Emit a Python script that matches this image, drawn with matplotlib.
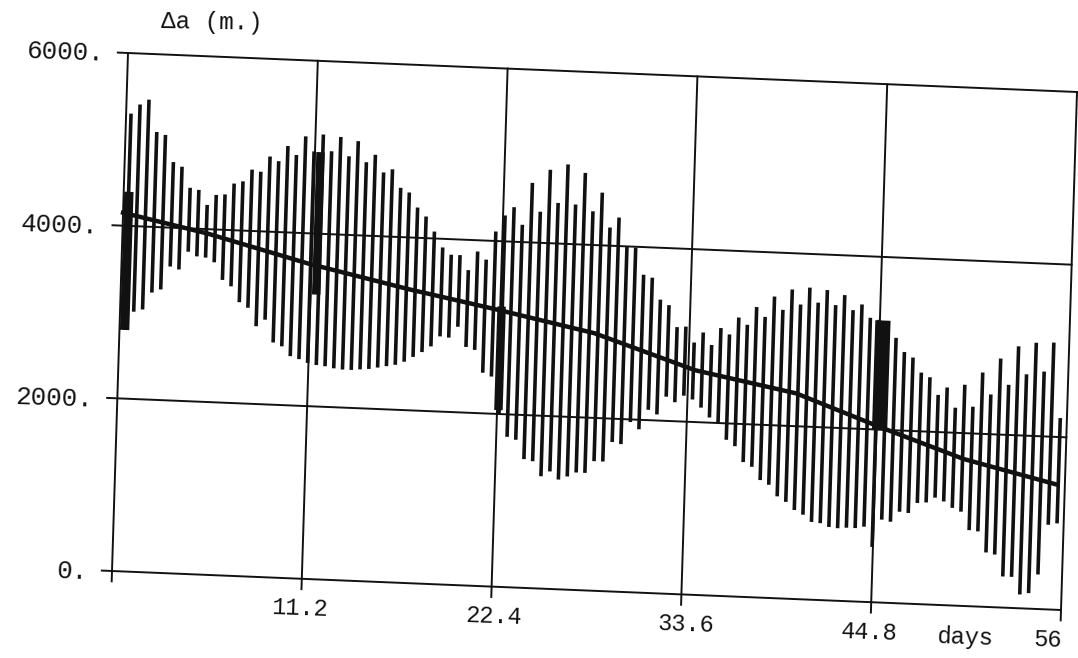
import matplotlib.pyplot as plt
from matplotlib.transforms import Affine2D
import numpy as np

# one bar per sample, samples about 0.517 day apart
first_day = 0.29
step = 0.517

tops = [5300, 5410, 5470, 5100, 5070, 4760, 4710, 4470, 4450, 4280,
        4400, 4410, 4540, 4570, 4710, 4690, 4870, 4820, 5000, 4900,
        5120, 4950, 5150, 4960, 5130, 4910, 5090, 4850, 4940, 4740,
        4780, 4570, 4520, 4350, 4250, 4080, 3900, 3820, 3820, 3650,
        3870, 3780, 4110, 4300, 4400, 4200, 4690, 4360, 4850, 4470,
        4920, 4460, 4830, 4390, 4610, 4210, 4330, 4000, 3990, 3680,
        3650, 3400, 3340, 3090, 3100, 2920, 3040, 2900, 3100, 3030,
        3230, 3150, 3360, 3250, 3490, 3340, 3580, 3410, 3610, 3440,
        3590, 3420, 3540, 3370, 3440, 3290, 3270, 3120, 3070, 2910,
        2850, 2680, 2630, 2430, 2520, 2290, 2560, 2310, 2710, 2460,
        2880, 2580, 3030, 2710, 3080, 2750, 3090, 2220]

bottoms = [2800, 3010, 3040, 3240, 3280, 3550, 3520, 3730, 3680, 3670,
           3620, 3420, 3350, 3170, 3110, 2900, 2980, 2720, 2680, 2570,
           2540, 2500, 2480, 2470, 2450, 2440, 2440, 2450, 2460, 2480,
           2500, 2520, 2560, 2620, 2680, 2750, 2870, 2860, 2990, 2760,
           2730, 2470, 2430, 2000, 1740, 1710, 1490, 1470, 1300, 1360,
           1270, 1310, 1360, 1360, 1500, 1500, 1730, 1710, 1970, 1890,
           2120, 2070, 2280, 2220, 2300, 2260, 2170, 2060, 2000, 1810,
           1740, 1560, 1510, 1360, 1310, 1180, 1120, 1030, 980, 900,
           890, 850, 840, 850, 850, 870, 640, 960, 940, 1060,
           1050, 1170, 1180, 1240, 1200, 1130, 1090, 880, 870, 630,
           610, 360, 360, 160, 180, 400, 980, 1000]

# dense stretches where the bars merge into a solid block
block_start = [0.0, 11.25, 22.2, 44.5]
block_end = [0.55, 11.75, 22.7, 45.4]
block_lo = [2800, 3300, 2050, 2000]
block_hi = [4400, 4950, 3250, 3270]

# mean curve
trend_days = [0, 5, 11, 17, 22.4, 28, 34, 40, 45, 50, 55.5]
trend_vals = [4150, 3950, 3650, 3400, 3200, 2980, 2600, 2380, 2030, 1700, 1450]

xticks = [11.2, 22.4, 33.6, 44.8, 56]
xtick_labels = ['11.2', '22.4', '33.6', '44.8', '56']
yticks = [0, 2000, 4000, 6000]
ytick_labels = ['0.', '2000.', '4000.', '6000.']

days = first_day + step * np.arange(len(tops))

dpi = 100
fig = plt.figure(figsize=(1078 / dpi, 658 / dpi), dpi=dpi)
ax = fig.add_axes([112 / 1078, 87 / 658, 949 / 1078, 518 / 658])
ax.set_xlim(0, 56)
ax.set_ylim(0, 6000)
ax.axis('off')

# the scanned sheet is slightly skewed
skew = (Affine2D().translate(-112, -87)
        + Affine2D(np.array([[1, 16 / 518, 0], [-39 / 949, 1, 0], [0, 0, 1]]))
        + Affine2D().translate(112, 87))
tr = ax.transData + skew

ink = '#111111'
font = ['Liberation Mono', 'DejaVu Sans Mono']

for v in yticks:
    ax.plot([-0.6, 56], [v, v], color=ink, lw=1.4, transform=tr, clip_on=False)
for d in [0] + xticks:
    ax.plot([d, d], [-120, 6000], color=ink, lw=1.4, transform=tr, clip_on=False)

ax.vlines(days, bottoms, tops, colors=ink, lw=2.6, transform=tr, clip_on=False)
for d0, d1, lo, hi in zip(block_start, block_end, block_lo, block_hi):
    ax.fill_between([d0, d1], lo, hi, color=ink, lw=0, transform=tr, clip_on=False)
ax.plot(trend_days, trend_vals, color=ink, lw=3.2, transform=tr, clip_on=False)

for v, lab in zip(yticks, ytick_labels):
    ax.annotate(lab, xy=(0, v), xycoords=tr, xytext=(-24, -1),
                textcoords='offset pixels', ha='right', va='center',
                fontsize=18.5, family=font, color=ink, rotation=-2,
                rotation_mode='anchor', annotation_clip=False)
xlab_shift = [-2, 2, 5, -2, -13]
for d, lab, dx in zip(xticks, xtick_labels, xlab_shift):
    ax.annotate(lab, xy=(d, 0), xycoords=tr, xytext=(dx, -30),
                textcoords='offset pixels', ha='center', va='center',
                fontsize=17, family=font, color=ink, rotation=-2,
                rotation_mode='anchor', annotation_clip=False)
ax.annotate('days', xy=(56, 0), xycoords=tr, xytext=(-96, -27),
            textcoords='offset pixels', ha='center', va='center',
            fontsize=17, family=font, color=ink, rotation=-2,
            rotation_mode='anchor', annotation_clip=False)
ax.annotate('Δa (m.)', xy=(0, 6000), xycoords=tr, xytext=(84, 31),
            textcoords='offset pixels', ha='center', va='center',
            fontsize=17.5, family=font, color=ink, rotation=-1,
            rotation_mode='anchor', annotation_clip=False)

fig.savefig('out.png', dpi=dpi)
